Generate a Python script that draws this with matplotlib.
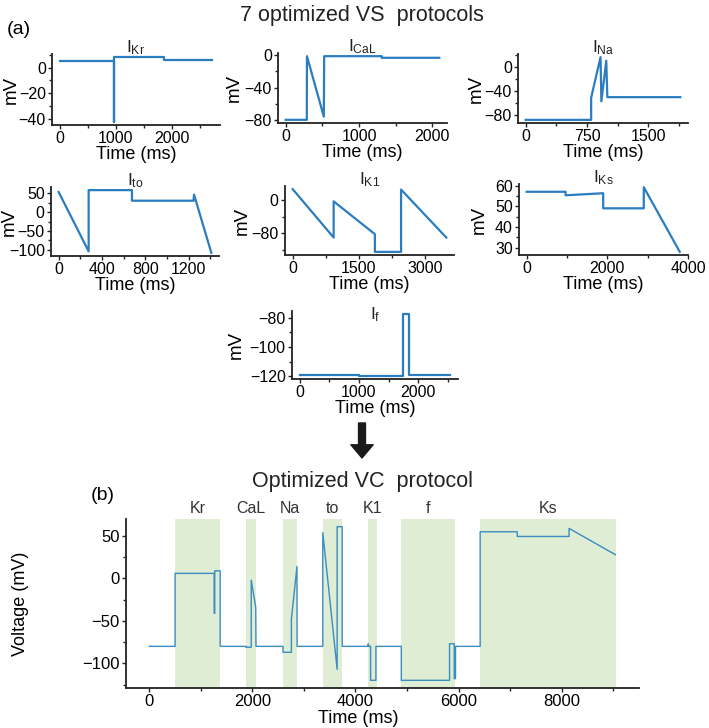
import matplotlib
matplotlib.use('Agg')
import matplotlib.pyplot as plt
from matplotlib import font_manager
from matplotlib.ticker import AutoMinorLocator

plt.rcParams['font.family'] = ['Liberation Sans', 'DejaVu Sans']
plt.rcParams['axes.unicode_minus'] = True

# condensed font for the two headings, if installed
try:
    font_manager.findfont('Liberation Sans Narrow', fallback_to_default=False)
    head_font, head_size = 'Liberation Sans Narrow', 18
except ValueError:
    head_font, head_size = 'Liberation Sans', 15.5

# --- 7 optimized VS protocols (time in ms, voltage in mV) ---
kr_t = [0, 960, 960, 975, 975, 1860, 1860, 2720]
kr_v = [5, 5, -42, -42, 8, 8, 5.5, 5.5]

cal_t = [0, 288, 290, 520, 525, 1310, 1310, 2095]
cal_v = [-80, -80, -1, -76, -1, -1, -3, -3]

na_t = [0, 800, 800, 915, 925, 985, 998, 1890]
na_v = [-88, -88, -51, 17, -57, 11, -50, -50]

to_t = [0, 277, 277, 677, 677, 1245, 1250, 1410]
to_v = [53, -104, 58, 58, 30, 30, 46, -108]

k1_t = [0, 928, 928, 1862, 1862, 2455, 2455, 3480]
k1_v = [25, -90, -4, -82, -124, -124, 24, -90]

ks_t = [0, 965, 965, 1897, 1897, 2904, 2904, 3795]
ks_v = [57, 57, 55.3, 56.3, 49, 49, 59.2, 28]

f_t = [0, 1000, 1000, 1740, 1740, 1845, 1845, 2540]
f_v = [-119.3, -119.3, -119.8, -119.8, -77.6, -77.6, -119.5, -119.5]

# --- combined optimized VC protocol ---
vc_t = [0, 500, 500, 1258, 1258, 1270, 1270, 1375, 1375, 1875, 1875, 1978, 1978,
        2065, 2070, 2595, 2595, 2757, 2757, 2865, 2868, 3366, 3366, 3645, 3645,
        3743, 3743, 4240, 4248, 4262, 4294, 4294, 4397, 4397, 4890, 4890, 5826,
        5826, 5917, 5917, 5942, 5942, 6420, 6420, 7140, 7140, 8145, 8145, 9045]
vc_v = [-80, -80, 6, 6, -41, -41, 9, 9, -80, -80, -81, -81, -2,
        -34, -80, -80, -87, -87, -48, 14, -80, -80, 54, -107, 61,
        61, -80, -80, -77, -80, -80, -120, -120, -80, -80, -120, -120,
        -77, -77, -118, -118, -80, -80, 55, 55, 49.5, 49.5, 59, 28]

seg_names = ['Kr', 'CaL', 'Na', 'to', 'K1', 'f', 'Ks']
seg_start = [500, 1875, 2595, 3365, 4240, 4890, 6420]
seg_end = [1375, 2075, 2870, 3745, 4410, 5940, 9050]

W, H = 709, 728
fig = plt.figure(figsize=(W / 100, H / 100), dpi=100)


def add_axes(l, t, r, b):
    # box given in pixels from the top-left corner
    return fig.add_axes([l / W, 1 - b / H, (r - l) / W, (b - t) / H])


def style(ax, fs):
    for s in ['top', 'right']:
        ax.spines[s].set_visible(False)
    for s in ['left', 'bottom']:
        ax.spines[s].set_linewidth(1.3)
        ax.spines[s].set_color('#222222')
    ax.xaxis.set_minor_locator(AutoMinorLocator(2))
    ax.yaxis.set_minor_locator(AutoMinorLocator(2))
    ax.tick_params(which='major', length=3, width=1, pad=1.5, labelsize=fs,
                   color='#222222')
    ax.tick_params(which='minor', length=2, width=1, color='#222222')


panels = [
    (kr_t, kr_v, 'Kr', [0, 1000, 2000], [-40, -20, 0], (52, 54, 220, 125), 13),
    (cal_t, cal_v, 'CaL', [0, 1000, 2000], [-80, -40, 0], (278, 53, 447, 123), 236),
    (na_t, na_v, 'Na', [0, 750, 1500], [-80, -40, 0], (518, 54, 688, 123), 478),
    (to_t, to_v, 'to', [0, 400, 800, 1200], [-100, -50, 0, 50], (51, 187, 219, 256), 11),
    (k1_t, k1_v, 'K1', [0, 1500, 3000], [-80, 0], (285, 186, 454, 255), 244),
    (ks_t, ks_v, 'Ks', [0, 2000, 4000], [30, 40, 50, 60], (519, 184, 688, 255), 481),
    (f_t, f_v, 'f', [0, 1000, 2000], [-120, -100, -80], (292, 311, 458, 379), 238),
]

for t, v, name, xt, yt, box, ylab_x in panels:
    ax = add_axes(*box)
    ax.plot(t, v, color='#2a7dc0', lw=1.6)
    ax.set_xticks(xt)
    ax.set_yticks(yt)
    style(ax, 11.5)
    ax.set_xlabel('Time (ms)', fontsize=13, labelpad=0)
    ax.set_ylabel('mV', fontsize=13.5)
    ax.yaxis.set_label_coords((ylab_x + 7 - box[0]) / (box[2] - box[0]), 0.5)
    title_y = 0.84 if name == 'f' else 1.0
    ax.set_title(r'$\mathregular{I_{%s}}$' % name, fontsize=12.5, pad=1.5,
                 y=title_y, color='#222222')

# bottom panel
ax = add_axes(126, 519, 639, 688)
for name, s, e in zip(seg_names, seg_start, seg_end):
    ax.axvspan(s, e, color='#deedd3', lw=0, zorder=0)
    ax.text((s + e) / 2, 1.065, name, transform=ax.get_xaxis_transform(),
            ha='center', va='center', fontsize=11.5, color='#333333')
ax.plot(vc_t, vc_v, color='#3a8cc2', lw=1.0)
ax.set_xticks([0, 2000, 4000, 6000, 8000])
ax.set_yticks([-100, -50, 0, 50])
style(ax, 12)
ax.tick_params(which='major', axis='x', pad=1)
ax.set_xlabel('Time (ms)', fontsize=13, labelpad=0)
ax.xaxis.set_label_coords(0.452, -0.128)
ax.set_ylabel('Voltage (mV)', fontsize=13)
ax.yaxis.set_label_coords((29 - 126) / 513, 0.5)

# headings and panel letters
fig.text(362 / W, 1 - 16 / H, '7 optimized VS  protocols', ha='center',
         va='center', fontsize=head_size, family=head_font, color='#222222')
fig.text(362 / W, 1 - 482 / H, 'Optimized VC  protocol', ha='center',
         va='center', fontsize=head_size, family=head_font, color='#222222')
fig.text(19 / W, 1 - 30 / H, '(a)', ha='center', va='center', fontsize=14)
fig.text(103 / W, 1 - 496 / H, '(b)', ha='center', va='center', fontsize=14)

# arrow between the two parts
ax.annotate('', xy=(362 / W, 1 - 458 / H), xytext=(362 / W, 1 - 423 / H),
            xycoords='figure fraction', textcoords='figure fraction',
            arrowprops=dict(arrowstyle='simple,head_width=1.6,head_length=0.95,tail_width=0.5',
                            color='#1a1a1a', mutation_scale=10, shrinkA=0, shrinkB=0))

fig.savefig('out.png', dpi=100)
